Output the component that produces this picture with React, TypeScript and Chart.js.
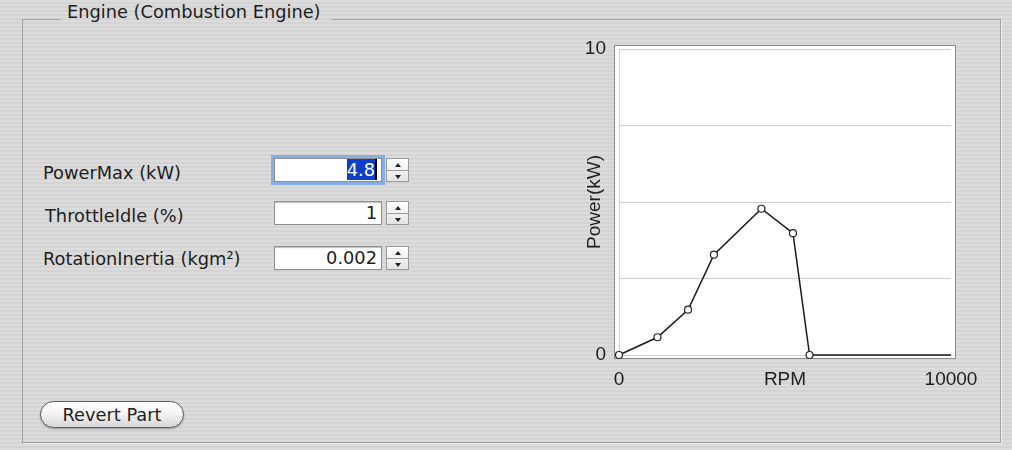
import React, { useEffect, useRef } from "react";
import { Chart, registerables } from "chart.js";

Chart.register(...registerables);

const rpmValues = [0, 1160, 2080, 2860, 4290, 5240, 5740, 10000];
const powerValues = [0, 0.58, 1.48, 3.28, 4.78, 3.98, 0, 0];
const pointRadii = [3.5, 3.5, 3.5, 3.5, 3.5, 3.5, 3.5, 0];
const xTickLabels: Record<number, string> = { 0: "0", 5000: "RPM", 10000: "10000" };
const yTickLabels: Record<number, string> = { 0: "0", 10: "10" };

const CHART_FONT = '"Liberation Sans", Arial, Helvetica, sans-serif';
const UI_FONT = '"DejaVu Sans", Verdana, sans-serif';
const UI_SIZE = 17.8;
const STRIPES =
  "repeating-linear-gradient(to bottom, #dcdcdc 0px, #dcdcdc 2px, #d4d4d4 2px, #d4d4d4 4px)";

const plotBox = {
  id: "plotBox",
  beforeDraw(chart: any) {
    const { ctx, chartArea } = chart;
    const l = Math.round(chartArea.left) - 5;
    const t = Math.round(chartArea.top) - 4;
    const w = Math.round(chartArea.right - chartArea.left) + 10;
    const h = Math.round(chartArea.bottom - chartArea.top) + 8;
    ctx.save();
    ctx.fillStyle = "#ffffff";
    ctx.fillRect(l, t, w, h);
    ctx.strokeStyle = "#8a8a8a";
    ctx.lineWidth = 1;
    ctx.strokeRect(l + 0.5, t + 0.5, w - 1, h - 1);
    ctx.restore();
  },
};

function ChartPanel() {
  const ref = useRef<HTMLCanvasElement | null>(null);
  useEffect(() => {
    if (!ref.current) return;
    const chart = new Chart(ref.current, {
      type: "line",
      data: {
        datasets: [
          {
            data: rpmValues.map((x, i) => ({ x, y: powerValues[i] })),
            borderColor: "#1a1a1a",
            borderWidth: 1.5,
            pointRadius: pointRadii,
            pointBackgroundColor: "#ffffff",
            pointBorderColor: "#222222",
            pointBorderWidth: 1.2,
            tension: 0,
            fill: false,
            clip: false,
          },
        ],
      },
      options: {
        animation: false,
        responsive: false,
        maintainAspectRatio: false,
        layout: { padding: { left: 0, right: 29, top: 19, bottom: 0 } },
        plugins: { legend: { display: false }, tooltip: { enabled: false } },
        scales: {
          x: {
            type: "linear",
            min: 0,
            max: 10000,
            afterFit: (s: any) => {
              s.height = 35;
              s.paddingLeft = 0;
              s.paddingRight = 0;
            },
            ticks: {
              stepSize: 5000,
              padding: 13,
              maxRotation: 0,
              color: "#1e1e1e",
              font: { family: CHART_FONT, size: 19 },
              callback: (v: any) => xTickLabels[Number(v)] ?? "",
            },
            grid: { display: false, drawTicks: false },
            border: { display: true, color: "#cfcfcf" },
          },
          y: {
            type: "linear",
            min: 0,
            max: 10,
            afterFit: (s: any) => {
              s.width = 59;
              s.paddingTop = 0;
              s.paddingBottom = 0;
            },
            ticks: {
              stepSize: 2.5,
              padding: 13,
              color: "#1e1e1e",
              font: { family: CHART_FONT, size: 19 },
              callback: (v: any) => yTickLabels[Number(v)] ?? "",
            },
            grid: { color: "#cfcfcf", drawTicks: false },
            border: { display: true, color: "#cfcfcf" },
            title: {
              display: true,
              text: "Power(kW)",
              color: "#1e1e1e",
              font: { family: CHART_FONT, size: 19 },
              padding: { top: 23, bottom: 0 },
            },
          },
        },
      },
      plugins: [plotBox],
    } as any);
    return () => chart.destroy();
  }, []);
  return <canvas ref={ref} width={420} height={360} style={{ display: "block" }} />;
}

function Spinner({ top }: { top: number }) {
  const tri = (up: boolean) => ({
    width: 0,
    height: 0,
    borderLeft: "3px solid transparent",
    borderRight: "3px solid transparent",
    ...(up ? { borderBottom: "4px solid #222" } : { borderTop: "4px solid #222" }),
  });
  return (
    <div
      style={{
        position: "absolute",
        left: 386,
        top,
        width: 23,
        height: 24,
        border: "1px solid #9a9a9a",
        background: "linear-gradient(#ffffff, #e4e4e4)",
        boxSizing: "border-box",
      }}
    >
      <div style={{ height: 11, borderBottom: "1px solid #9a9a9a", display: "flex", alignItems: "center", justifyContent: "center" }}>
        <div style={tri(true)} />
      </div>
      <div style={{ height: 11, display: "flex", alignItems: "center", justifyContent: "center" }}>
        <div style={tri(false)} />
      </div>
    </div>
  );
}

function Field({ top, value, focused }: { top: number; value: string; focused?: boolean }) {
  return (
    <>
      <div
        style={{
          position: "absolute",
          left: 274,
          top,
          width: 108,
          height: 24,
          boxSizing: "border-box",
          background: "#ffffff",
          border: "1px solid #8e8e8e",
          boxShadow: focused ? "0 0 0 3px rgba(110,160,225,0.75)" : "inset 0 1px 1px rgba(0,0,0,0.25)",
          fontSize: UI_SIZE,
          lineHeight: "22px",
          textAlign: "right",
          paddingRight: 4,
          color: "#1e1e1e",
          whiteSpace: "nowrap",
        }}
      >
        {focused ? (
          <span style={{ background: "#0d3fc9", color: "#ffffff", borderRight: "2px solid #000" }}>{value}</span>
        ) : (
          value
        )}
      </div>
      <Spinner top={top} />
    </>
  );
}

const labelStyle = (top: number, left: number): React.CSSProperties => ({
  position: "absolute",
  left,
  top,
  fontSize: UI_SIZE,
  lineHeight: "22px",
  color: "#1e1e1e",
  whiteSpace: "nowrap",
});

export default function App() {
  useEffect(() => {
    document.body.style.margin = "0";
  }, []);
  return (
    <div
      style={{
        position: "relative",
        width: 1012,
        height: 450,
        overflow: "hidden",
        background: STRIPES,
        fontFamily: UI_FONT,
      }}
    >
      <div
        style={{
          position: "absolute",
          left: 22,
          top: 19,
          width: 979,
          height: 424,
          boxSizing: "border-box",
          borderLeft: "1px solid #a2a2a2",
          borderRight: "1px solid #a2a2a2",
          borderBottom: "1px solid #a2a2a2",
          boxShadow: "1px 1px 0 #eeeeee",
        }}
      />
      <div style={{ position: "absolute", left: 22, top: 19, width: 38, height: 1, background: "#a2a2a2" }} />
      <div style={{ position: "absolute", left: 332, top: 19, width: 669, height: 1, background: "#a2a2a2" }} />
      <div style={labelStyle(1, 67)}>Engine (Combustion Engine)</div>

      <div style={labelStyle(162, 43)}>PowerMax (kW)</div>
      <div style={labelStyle(205, 45)}>ThrottleIdle (%)</div>
      <div style={labelStyle(248, 43)}>RotationInertia (kgm²)</div>

      <Field top={158} value="4.8" focused />
      <Field top={201} value="1" />
      <Field top={246} value="0.002" />

      <div
        style={{
          position: "absolute",
          left: 40,
          top: 401,
          width: 144,
          height: 27,
          boxSizing: "border-box",
          borderRadius: 14,
          border: "1px solid #5a5a5a",
          background: "linear-gradient(#ffffff 0%, #f2f2f2 50%, #d6d6d6 100%)",
          boxShadow: "0 1px 2px rgba(0,0,0,0.3)",
          fontSize: UI_SIZE,
          lineHeight: "25px",
          textAlign: "center",
          color: "#1e1e1e",
        }}
      >
        Revert Part
      </div>

      <div style={{ position: "absolute", left: 560, top: 30, width: 420, height: 360 }}>
        <ChartPanel />
      </div>
    </div>
  );
}
